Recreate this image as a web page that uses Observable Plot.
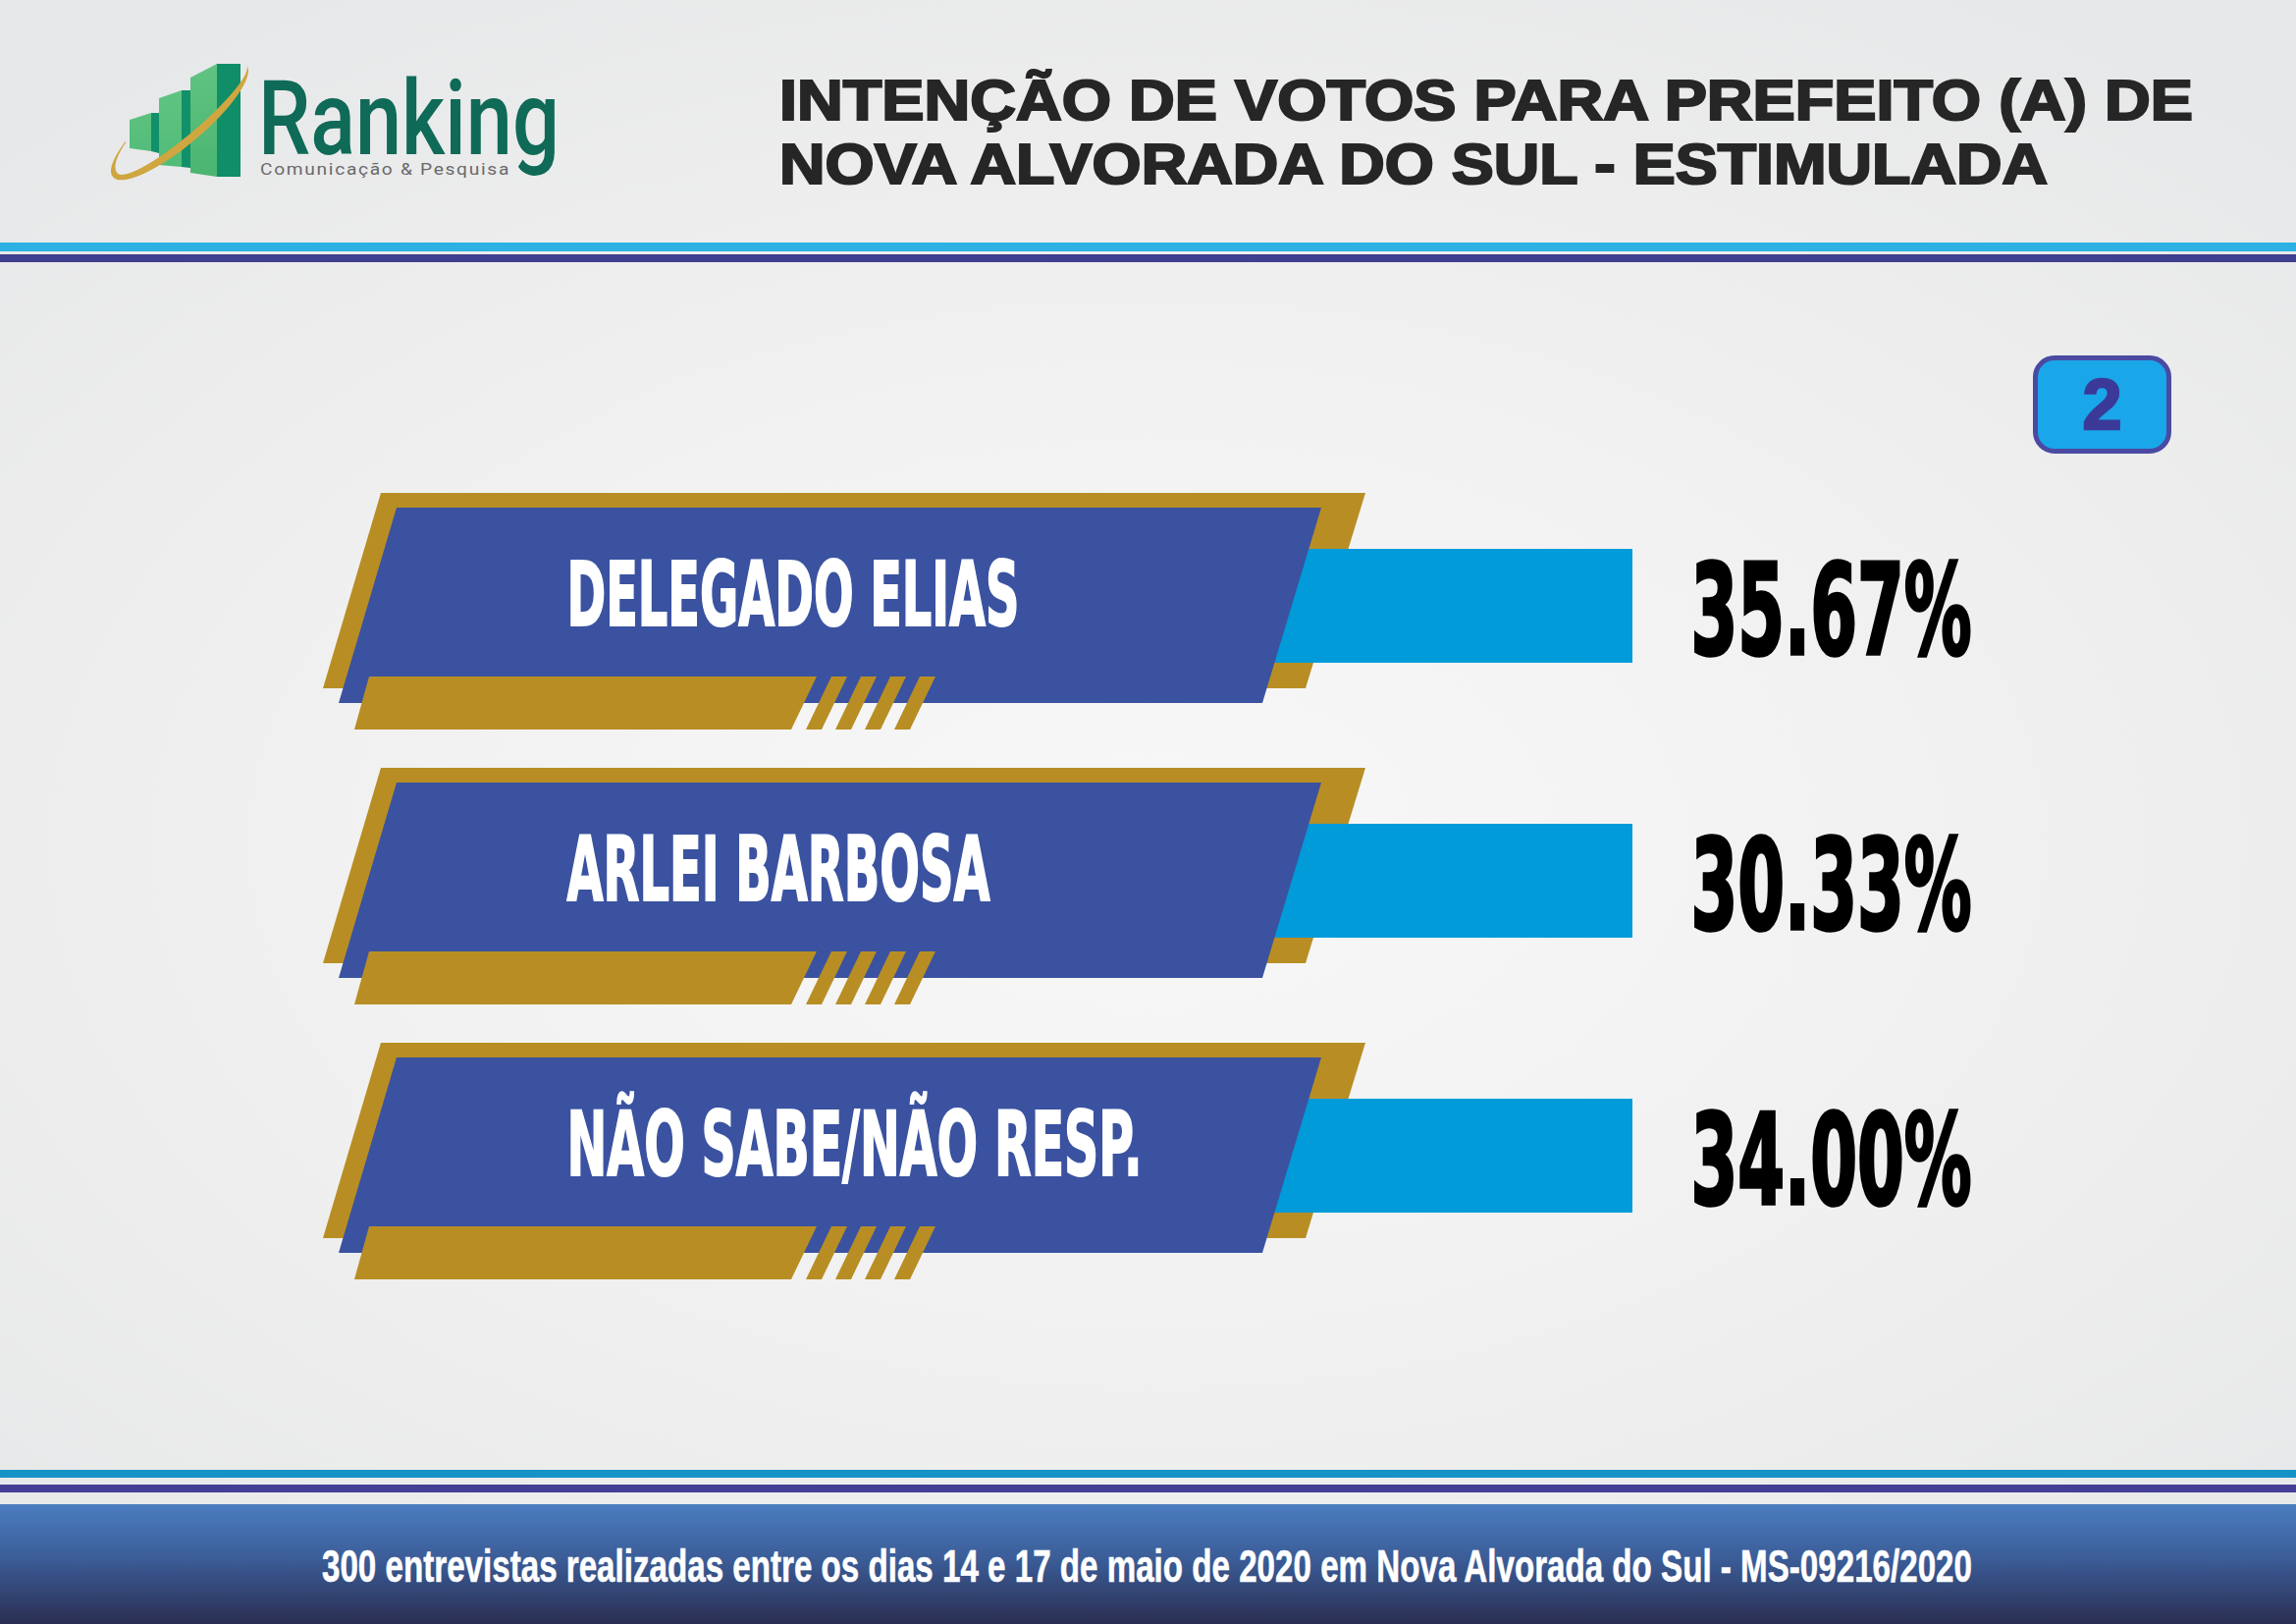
<!DOCTYPE html>
<html lang="pt">
<head>
<meta charset="utf-8">
<script src="https://cdn.jsdelivr.net/npm/d3@7"></script>
<script src="https://cdn.jsdelivr.net/npm/@observablehq/plot@0.6"></script>
<style>
html,body{margin:0;padding:0;}
body{width:2339px;height:1654px;position:relative;overflow:hidden;
  background:radial-gradient(ellipse 70% 60% at 50% 52%, #f8f8f8 0%, #f1f1f1 50%, #e7e8e9 100%);
  font-family:"Liberation Sans",Arial,sans-serif;}
.abs{position:absolute;}
.fit{white-space:nowrap;display:inline-block;transform-origin:0 0;line-height:1;}
.part{position:absolute;left:0;top:0;width:600px;height:240px;}
#chart{position:absolute;left:0;top:270px;}
</style>
</head>
<body>
<!-- logo -->
<div class="abs" style="left:0;top:0;width:600px;height:240px;">
  <div class="part" style="background:linear-gradient(180deg,#6fce8e,#45b36f);clip-path:polygon(132px 122px,154px 115px,154px 154px,132px 151px)"></div>
  <div class="part" style="background:#12906a;clip-path:polygon(154px 115px,162px 115px,162px 156px,154px 154px)"></div>
  <div class="part" style="background:linear-gradient(180deg,#6fce8e,#45b36f);clip-path:polygon(162px 100px,185px 92px,185px 170px,162px 168px)"></div>
  <div class="part" style="background:#12906a;clip-path:polygon(185px 92px,194px 92px,194px 171px,185px 170px)"></div>
  <div class="part" style="background:linear-gradient(180deg,#6ccb8a,#40ad69);clip-path:polygon(194px 79px,221px 65px,221px 180px,194px 176px)"></div>
  <div class="part" style="background:#0f8e68;clip-path:polygon(221px 65px,245px 65px,245px 180px,221px 180px)"></div>
  <div class="abs" style="left:94px;top:98px;width:178px;height:50px;border-radius:50%;border-bottom:8px solid #cfa640;border-left:6px solid #cfa640;border-top:0;border-right:0;transform:rotate(-40deg);box-sizing:border-box;"></div>
  <div class="abs" style="left:263px;top:90px;"><span class="fit" id="rk" style="font-family:Roboto,'Open Sans',sans-serif;font-weight:500;font-size:105px;line-height:0.6;color:#0f6a57;">Ranking</span></div>
  <div class="abs" style="left:265px;top:164px;"><span class="fit" id="rk2" style="font-family:Roboto,'Open Sans',sans-serif;font-size:17px;line-height:0.8;color:#6a6a6a;letter-spacing:1.5px;">Comunicação &amp; Pesquisa</span></div>
</div>
<!-- title -->
<div class="abs" style="left:794px;top:73px;"><span class="fit" id="t1" style="font-size:58px;font-weight:bold;color:#262626;-webkit-text-stroke:2.2px #262626;">INTENÇÃO DE VOTOS PARA PREFEITO (A) DE</span></div>
<div class="abs" style="left:794px;top:138px;"><span class="fit" id="t2" style="font-size:58px;font-weight:bold;color:#262626;-webkit-text-stroke:2.2px #262626;">NOVA ALVORADA DO SUL - ESTIMULADA</span></div>
<!-- header lines -->
<div class="abs" style="left:0;top:247px;width:2339px;height:9px;background:#2bb2e2;"></div>
<div class="abs" style="left:0;top:259px;width:2339px;height:8px;background:#3e3f8e;"></div>

<div id="chart"></div>

<!-- badge -->
<div class="abs" style="left:2071px;top:362px;width:141px;height:100px;box-sizing:border-box;border:5px solid #4b4aa2;border-radius:22px;background:#19a7ea;text-align:center;">
  <span style="font-size:72px;font-weight:bold;color:#3b3a99;-webkit-text-stroke:2.5px #3b3a99;line-height:90px;">2</span>
</div>

<!-- footer -->
<div class="abs" style="left:0;top:1497px;width:2339px;height:8px;background:#1693c6;"></div>
<div class="abs" style="left:0;top:1512px;width:2339px;height:8px;background:#433f95;"></div>
<div class="abs" style="left:0;top:1532px;width:2339px;height:122px;background:linear-gradient(180deg,#4b7dc0 0%,#3b5d98 45%,#2a2e52 100%);"></div>
<div class="abs" style="left:328px;top:1571px;"><span class="fit" id="ft" style="font-size:47px;font-weight:bold;color:#ffffff;-webkit-text-stroke:0.6px #ffffff;">300 entrevistas realizadas entre os dias 14 e 17 de maio de 2020 em Nova Alvorada do Sul - MS-09216/2020</span></div>

<script>
// ---- data ----
const categories = ["DELEGADO ELIAS", "ARLEI BARBOSA", "NÃO SABE/NÃO RESP."];
const values = [35.67, 30.33, 34.00];
const fmt = d => d3.format(".2f")(d) + "%";

// ---- styling / layout (pixels relative to each row centre) ----
const colors = {gold: "#b88e24", blue: "#3a52a0", cyan: "#019bd9"};
const labelWidths = [461, 431, 586];
const valueWidth = 286;
const geom = {
  goldBack: {top: -115, bottom: 84, xTop: [388, 1391], xBottom: [329, 1330]},
  blue: {top: -100, bottom: 99, xTop: [404, 1346], xBottom: [345, 1286]},
  strip: {top: 72, bottom: 126, xTop: [376, 832], xBottom: [361, 806]},
  stripes: {xTop: [847, 877, 907, 937], w: 16, shift: -26},
  cyan: {x1: 1298, x2: 1663, half: 58}
};

function poly(g, x, c, s, fill) {
  const pts = [[s.xTop[0], c + s.top], [s.xTop[1], c + s.top], [s.xBottom[1], c + s.bottom], [s.xBottom[0], c + s.bottom]];
  g.append("path").attr("d", "M" + pts.map(p => x(p[0]) + "," + p[1]).join("L") + "Z").attr("fill", fill);
}
function rowCentre(y, cat) {
  const bw = typeof y.bandwidth === "function" ? y.bandwidth() : 0;
  return y(cat) + bw / 2;
}
function backMark(index, scales) {
  const g = d3.create("svg:g");
  for (const cat of categories) poly(g, scales.x, rowCentre(scales.y, cat), geom.goldBack, colors.gold);
  return g.node();
}
function frontMark(index, scales) {
  const g = d3.create("svg:g");
  for (const cat of categories) {
    const c = rowCentre(scales.y, cat);
    poly(g, scales.x, c, geom.blue, colors.blue);
    poly(g, scales.x, c, geom.strip, colors.gold);
    const st = geom.stripes;
    for (const x0 of st.xTop) {
      poly(g, scales.x, c, {top: geom.strip.top, bottom: geom.strip.bottom,
        xTop: [x0, x0 + st.w], xBottom: [x0 + st.shift, x0 + st.w + st.shift]}, colors.gold);
    }
  }
  return g.node();
}

const plot = Plot.plot({
  width: 2339,
  height: 1220,
  margin: 0,
  style: {background: "transparent", overflow: "visible"},
  x: {domain: [0, 2339], range: [0, 2339], axis: null},
  y: {type: "band", domain: categories, range: [207, 1047], padding: 0, axis: null},
  marks: [
    backMark,
    Plot.barX(categories, {y: d => d, x1: geom.cyan.x1, x2: geom.cyan.x2,
      insetTop: 140 - geom.cyan.half, insetBottom: 140 - geom.cyan.half, fill: colors.cyan}),
    frontMark,
    Plot.text(categories, {y: d => d, x: 577, text: d => d, textAnchor: "start", lineAnchor: "bottom", dy: 19,
      fill: "white", fontSize: 91, fontWeight: "bold",
      fontFamily: "'Liberation Sans Narrow','DejaVu Sans Condensed','Liberation Sans',sans-serif"}),
    Plot.text(values, {y: (d, i) => categories[i], x: 1722, text: fmt, textAnchor: "start", lineAnchor: "bottom", dy: 48,
      fill: "#000", fontSize: 128, fontWeight: "bold",
      fontFamily: "'Liberation Sans Narrow','DejaVu Sans Condensed','Liberation Sans',sans-serif"})
  ]
});
document.getElementById("chart").appendChild(plot);

// stretch texts to the widths measured on the reference
const widthOf = new Map(categories.map((c, i) => [c, labelWidths[i]]));
values.forEach(v => widthOf.set(fmt(v), valueWidth));
d3.select(plot).selectAll("text").each(function() {
  const t = this.textContent;
  if (widthOf.has(t)) {
    d3.select(this).attr("textLength", widthOf.get(t)).attr("lengthAdjust", "spacingAndGlyphs");
  }
});
d3.select(plot).selectAll("text").filter(function(){return categories.includes(this.textContent);})
  .attr("stroke", "white").attr("stroke-width", 2);
d3.select(plot).selectAll("text").filter(function(){return values.map(fmt).includes(this.textContent);})
  .attr("stroke", "black").attr("stroke-width", 3.5);

function fit(id, w) {
  const el = document.getElementById(id);
  const r = el.getBoundingClientRect().width;
  el.style.transform = "scaleX(" + (w / r) + ")";
}
fit("rk", 307); fit("rk2", 255); fit("t1", 1440); fit("t2", 1292); fit("ft", 1681);
</script>
</body>
</html>
